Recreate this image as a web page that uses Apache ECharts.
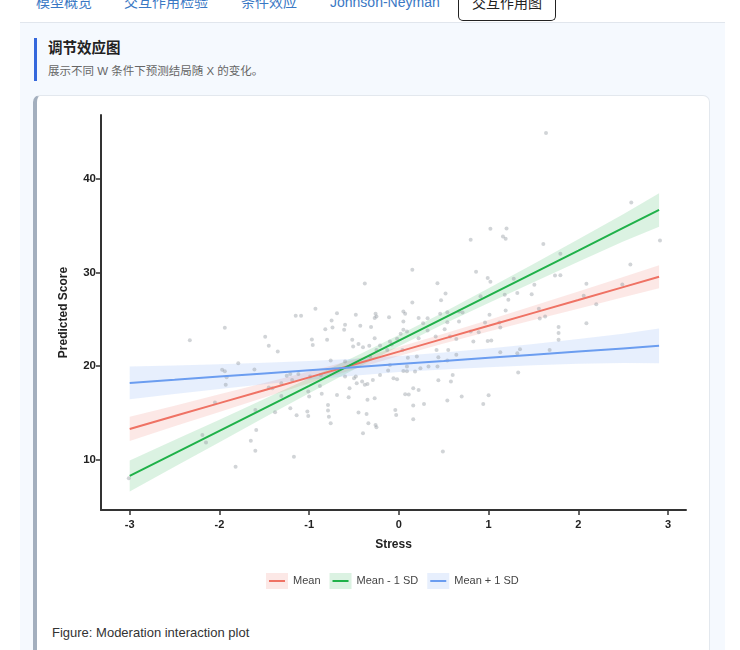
<!DOCTYPE html>
<html>
<head>
<meta charset="utf-8">
<script src="https://cdn.jsdelivr.net/npm/echarts@6/dist/echarts.min.js"></script>
<style>
  body { margin: 0; width: 740px; height: 650px; overflow: hidden; background: #fff;
         font-family: "Liberation Sans", Arial, "Noto Sans CJK SC", sans-serif; position: relative; }
  .tab { position: absolute; top: -8px; font-size: 14px; color: #3a78c4; line-height: 20px; white-space: nowrap; }
  .tab.active { left: 458px; width: 96px; height: 26px; top: -6px; text-align: center; color: #222;
                border: 1.5px solid #222; border-top: none; border-radius: 0 0 5px 5px; background: #fff; line-height: 18px; }
  .panel { position: absolute; left: 20px; top: 22px; width: 705px; height: 640px; background: #f5f9fe;
           border-top: 1px solid #e1e6ed; }
  .head { position: absolute; left: 34px; top: 38px; height: 43px; border-left: 3px solid #3568dc; padding-left: 11px; }
  .head h3 { margin: 0; font-size: 14.5px; font-weight: bold; color: #222; line-height: 20px; }
  .head p { margin: 5px 0 0; font-size: 11.5px; color: #666; line-height: 16px; }
  .card { position: absolute; left: 33px; top: 95px; width: 672px; height: 600px; background: #fff;
          border: 1px solid #e3e8ee; border-left: 4px solid #a3afbe; border-radius: 7px; }
  #chart { position: absolute; left: 37px; top: 100px; width: 670px; height: 505px; }
  .caption { position: absolute; left: 52px; top: 625px; font-size: 13px; color: #333; }
</style>
</head>
<body>
<div class="tab" style="left:36px">模型概览</div>
<div class="tab" style="left:124px">交互作用检验</div>
<div class="tab" style="left:241px">条件效应</div>
<div class="tab" style="left:330px">Johnson-Neyman</div>
<div class="panel"></div>
<div class="tab active">交互作用图</div>
<div class="head">
  <h3>调节效应图</h3>
  <p>展示不同 W 条件下预测结局随 X 的变化。</p>
</div>
<div class="card"></div>
<div id="chart"></div>
<div class="caption">Figure: Moderation interaction plot</div>
<script>
// fitted lines and confidence bands, read at these Stress values
var bandX = [-3, -2.5, -2, -1.5, -1, -0.5, 0, 0.5, 1, 1.5, 2, 2.5, 2.9];

var meanFit = [13.31, 14.69, 16.06, 17.44, 18.81, 20.19, 21.56, 22.94, 24.31, 25.69, 27.06, 28.44, 29.54];
var meanLow = [12.01, 13.59, 15.11, 16.66, 18.18, 19.67, 21.08, 22.42, 23.69, 24.93, 26.14, 27.36, 28.32];
var meanHigh = [14.61, 15.79, 17.01, 18.22, 19.44, 20.71, 22.04, 23.46, 24.93, 26.45, 27.98, 29.52, 30.76];

var lowFit = [8.29, 10.70, 13.10, 15.51, 17.91, 20.32, 22.72, 25.13, 27.53, 29.94, 32.34, 34.75, 36.67];
var lowLow = [6.64, 9.28, 11.90, 14.53, 17.11, 19.66, 22.12, 24.49, 26.75, 28.97, 31.14, 33.30, 34.89];
var lowHigh = [9.94, 12.12, 14.30, 16.49, 18.71, 20.98, 23.32, 25.77, 28.31, 30.91, 33.54, 36.20, 38.45];

var highFit = [18.22, 18.55, 18.89, 19.22, 19.56, 19.89, 20.23, 20.56, 20.90, 21.23, 21.57, 21.90, 22.17];
var highLow = [16.47, 17.03, 17.57, 18.08, 18.56, 18.99, 19.37, 19.66, 19.90, 20.09, 20.25, 20.35, 20.32];
var highHigh = [19.97, 20.07, 20.21, 20.36, 20.56, 20.79, 21.09, 21.46, 21.90, 22.37, 22.89, 23.45, 24.02];

// raw observations
var stressX = [-3.01, -2.33, -2.19, -2.15, -2.05, -1.97, -1.94, -1.94, -1.92, -1.93, -1.82, -1.79, -1.65, -1.61,
  -1.60, -1.60, -1.59, -1.49, -1.45, -1.45, -1.41, -1.38, -1.35, -1.31, -1.31, -1.25, -1.21, -1.21, -1.17,
  -1.15, -1.14, -1.12, -1.09, -1.19, -1.01, -1.00, -1.02, -1.01, -0.99, -0.97, -0.96, -0.93, -0.88, -0.87,
  -0.86, -0.82, -0.80, -0.79, -0.79, -0.78, -0.76, -0.76, -0.75, -0.74, -0.69, -0.69, -0.61, -0.60, -0.60,
  -0.60, -0.56, -0.55, -0.52, -0.51, -0.50, -0.48, -0.48, -0.47, -0.45, -0.45, -0.43, -0.41, -0.40, -0.40,
  -0.38, -0.38, -0.36, -0.35, -0.35, -0.34, -0.33, -0.32, -0.31, -0.29, -0.27, -0.27, -0.27, -0.26, -0.26,
  -0.25, -0.25, -0.25, -0.21, -0.21, -0.13, -0.12, -0.11, -0.10, -0.10, -0.08, -0.06, -0.04, -0.03, -0.02,
  -0.02, 0.02, 0.04, 0.05, 0.05, 0.05, 0.07, 0.05, 0.09, 0.07, 0.11, 0.09, 0.10, 0.09, 0.15, 0.15, 0.16,
  0.16, 0.16, 0.18, 0.20, 0.22, 0.22, 0.22, 0.24, 0.27, 0.28, 0.32, 0.32, 0.33, 0.41, 0.42, 0.43, 0.43,
  0.44, 0.44, 0.46, 0.47, 0.49, 0.52, 0.51, 0.54, 0.54, 0.54, 0.54, 0.55, 0.57, 0.58, 0.60, 0.64, 0.64,
  0.67, 0.67, 0.70, 0.71, 0.80, 0.80, 0.83, 0.86, 0.89, 0.91, 0.94, 0.96, 0.99, 0.99, 1.00, 1.01, 1.02,
  1.02, 1.03, 1.12, 1.13, 1.13, 1.16, 1.19, 1.20, 1.18, 1.19, 1.22, 1.28, 1.32, 1.32, 1.33, 1.35, 1.48,
  1.51, 1.56, 1.57, 1.61, 1.63, 1.64, 1.68, 1.74, 1.80, 1.80, 1.78, 1.78, 1.78, 2.06, 2.09, 2.09, 2.20,
  2.49, 2.58, 2.59, 2.91];
var scoreY = [8.05, 22.78, 12.67, 11.85, 16.12, 19.61, 19.47, 24.09, 18.83, 18.01, 9.28, 20.32, 12.06, 19.64,
  15.34, 10.99, 13.20, 23.13, 22.17, 17.72, 17.65, 15.09, 21.56, 18.19, 16.83, 18.97, 19.18, 15.52, 10.35,
  25.37, 14.77, 19.18, 25.37, 18.54, 17.29, 16.76, 15.16, 14.70, 18.89, 22.84, 22.25, 26.12, 17.90, 19.07,
  17.05, 23.95, 22.81, 15.87, 15.28, 14.62, 13.92, 20.60, 24.87, 24.12, 25.64, 16.94, 23.88, 24.41, 20.49,
  18.89, 16.69, 17.65, 22.81, 22.10, 18.72, 25.48, 18.89, 18.19, 22.38, 15.05, 24.31, 18.36, 22.03, 12.85,
  28.82, 18.01, 14.91, 16.41, 18.11, 13.92, 22.17, 21.03, 24.17, 18.54, 25.13, 22.99, 16.59, 25.59, 13.74,
  13.49, 21.74, 25.30, 19.07, 22.20, 21.74, 19.53, 25.23, 22.63, 20.14, 22.31, 18.72, 15.34, 14.80, 22.92,
  18.62, 23.45, 21.74, 24.76, 23.88, 25.83, 25.59, 19.50, 19.47, 17.01, 16.99, 23.70, 20.89, 19.96, 30.28,
  26.81, 17.65, 15.80, 14.35, 19.43, 21.03, 17.47, 25.13, 22.99, 19.79, 24.59, 15.98, 25.11, 23.80, 19.96,
  23.16, 21.74, 28.84, 19.96, 20.96, 18.49, 25.59, 27.03, 10.89, 27.75, 23.95, 24.70, 20.60, 16.33, 25.77,
  21.74, 23.16, 18.36, 19.07, 22.89, 21.21, 25.83, 24.76, 16.76, 25.73, 33.49, 23.70, 22.63, 30.07, 23.63,
  27.46, 15.98, 24.66, 29.40, 22.70, 16.91, 25.48, 34.66, 29.00, 22.75, 24.66, 24.12, 21.50, 33.84, 33.59,
  34.69, 27.62, 25.94, 27.08, 29.32, 21.39, 27.80, 19.34, 21.82, 27.69, 28.68, 26.12, 25.09, 33.03, 25.30,
  44.88, 21.74, 29.68, 29.70, 31.99, 24.17, 23.53, 22.81, 27.51, 28.79, 24.59, 26.60, 28.72, 30.84, 37.47,
  33.40];

var xTicks = [-3, -2, -1, 0, 1, 2, 3];
var yTicks = [10, 20, 30, 40];

var groups = [
  { name: 'Mean', fit: meanFit, low: meanLow, high: meanHigh, color: '#ef7264', band: 'rgba(239,114,100,0.16)' },
  { name: 'Mean - 1 SD', fit: lowFit, low: lowLow, high: lowHigh, color: '#1fb149', band: 'rgba(31,177,73,0.16)' },
  { name: 'Mean + 1 SD', fit: highFit, low: highLow, high: highHigh, color: '#6b9df0', band: 'rgba(107,157,240,0.16)' }
];

var fontFamily = '"Liberation Sans", Arial, sans-serif';

function pairs(xs, ys) {
  return xs.map(function (x, i) { return [x, ys[i]]; });
}

function bandSeries(g) {
  return {
    type: 'custom',
    name: g.name + ' CI',
    silent: true,
    z: 1,
    data: [[0, 0]],
    renderItem: function (params, api) {
      var pts = [];
      for (var i = 0; i < bandX.length; i++) pts.push(api.coord([bandX[i], g.high[i]]));
      for (var j = bandX.length - 1; j >= 0; j--) pts.push(api.coord([bandX[j], g.low[j]]));
      return { type: 'polygon', shape: { points: pts }, style: { fill: g.band } };
    }
  };
}

var series = groups.map(bandSeries);
series.push({
  type: 'scatter',
  name: 'Observed',
  silent: true,
  z: 2,
  symbolSize: 4,
  itemStyle: { color: '#8d939b', opacity: 0.4 },
  data: pairs(stressX, scoreY)
});
groups.forEach(function (g) {
  series.push({
    type: 'line',
    name: g.name,
    z: 3,
    symbol: 'line',
    showSymbol: false,
    silent: true,
    lineStyle: { color: g.color, width: 2 },
    itemStyle: { color: g.color },
    data: pairs(bandX, g.fit)
  });
});

var chart = echarts.init(document.getElementById('chart'));
chart.setOption({
  animation: false,
  grid: { left: 64, right: 21, top: 15, bottom: 95 },
  legend: {
    left: 216,
    top: 468,
    itemWidth: 22,
    itemHeight: 20,
    itemGap: 1,
    selectedMode: false,
    textStyle: { fontSize: 11, color: '#444', fontFamily: fontFamily },
    data: groups.map(function (g) {
      return {
        name: g.name,
        lineStyle: { color: g.band, width: 16, cap: 'butt' },
        itemStyle: { borderColor: g.color, borderWidth: 2 }
      };
    })
  },
  xAxis: {
    type: 'value',
    min: -3.32,
    max: 3.2,
    name: 'Stress',
    nameLocation: 'middle',
    nameGap: 29,
    nameTextStyle: { fontSize: 12, fontWeight: 'bold', color: '#222', fontFamily: fontFamily },
    axisLine: { onZero: false, lineStyle: { color: '#333', width: 2 } },
    axisTick: { length: 5, lineStyle: { color: '#333', width: 1.5 }, customValues: xTicks },
    axisLabel: { fontSize: 11, fontWeight: 'bold', color: '#222', margin: 9, fontFamily: fontFamily, customValues: xTicks },
    splitLine: { show: false }
  },
  yAxis: {
    type: 'value',
    min: 4.66,
    max: 46.8,
    name: 'Predicted Score',
    nameLocation: 'middle',
    nameGap: 31,
    nameTextStyle: { fontSize: 12, fontWeight: 'bold', color: '#222', fontFamily: fontFamily },
    axisLine: { show: true, onZero: false, lineStyle: { color: '#333', width: 2 } },
    axisTick: { show: true, length: 5, lineStyle: { color: '#333', width: 1.5 }, customValues: yTicks },
    axisLabel: { fontSize: 11.5, fontWeight: 'bold', color: '#222', margin: 5, fontFamily: fontFamily, customValues: yTicks },
    splitLine: { show: false }
  },
  series: series
});
</script>
</body>
</html>
